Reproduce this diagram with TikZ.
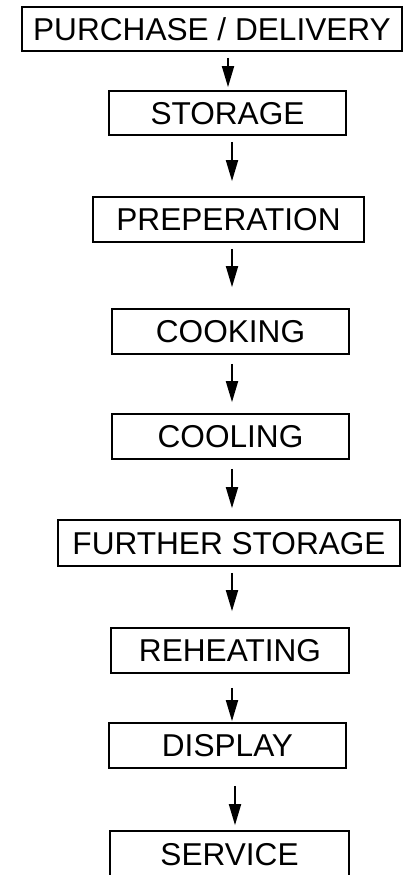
\documentclass[tikz,border=0pt]{standalone}
\usepackage{fontspec}
\setmainfont{Liberation Sans}
\usetikzlibrary{arrows.meta}
\newcommand\lbl[1]{#1}
\tikzset{
  box/.style={draw, line width=1.7pt, inner sep=0pt, text height=22.8pt, text depth=0pt,
    font=\fontsize{31.6}{34}\selectfont},
  openbox/.style={box, draw=none},
  arr/.style={line width=1.8pt, -{Triangle[length=21pt,width=12pt]}}
}
\begin{document}
\begin{tikzpicture}[x=1pt,y=-1pt]
\useasboundingbox (0,0) rectangle (408,875);
\node[box, minimum width=380pt, minimum height=44pt] (n1) at (212,29) {\lbl{PURCHASE / DELIVERY}};
\node[box, minimum width=237pt, minimum height=44pt] (n2) at (227.5,113) {\lbl{STORAGE}};
\node[box, minimum width=271pt, minimum height=45pt] (n3) at (228.5,219.5) {\lbl{PREPERATION}};
\node[box, minimum width=237pt, minimum height=45pt] (n4) at (230.5,331.5) {\lbl{COOKING}};
\node[box, minimum width=237pt, minimum height=45pt] (n5) at (230.5,436.5) {\lbl{COOLING}};
\node[box, minimum width=342pt, minimum height=46pt] (n6) at (229,543) {\lbl{FURTHER STORAGE}};
\node[box, minimum width=238pt, minimum height=45pt] (n7) at (230,650.5) {\lbl{REHEATING}};
\node[box, minimum width=237pt, minimum height=45pt] (n8) at (227.5,745.5) {\lbl{DISPLAY}};
\node[openbox, minimum width=237pt, minimum height=44pt] (n9) at (229.5,854) {\lbl{SERVICE}};
\draw[line width=1.7pt] (n9.south west) -- (n9.north west) -- (n9.north east) -- (n9.south east);
\draw[arr] ([xshift=16pt,yshift=-6pt]n1.south) -- ([xshift=0.5pt,yshift=3pt]n2.north);
\draw[arr] ([xshift=4.5pt,yshift=-6pt]n2.south) -- ([xshift=3.5pt,yshift=15pt]n3.north);
\draw[arr] ([xshift=3.5pt,yshift=-6pt]n3.south) -- ([xshift=1.5pt,yshift=21pt]n4.north);
\draw[arr] ([xshift=1.5pt,yshift=-9pt]n4.south) -- ([xshift=1.5pt,yshift=11pt]n5.north);
\draw[arr] ([xshift=1.5pt,yshift=-9pt]n5.south) -- ([xshift=3pt,yshift=11pt]n6.north);
\draw[arr] ([xshift=3pt,yshift=-6pt]n6.south) -- ([xshift=2pt,yshift=16pt]n7.north);
\draw[arr] ([xshift=2pt,yshift=-14pt]n7.south) -- ([xshift=4.5pt,yshift=1pt]n8.north);
\draw[arr] ([xshift=7.5pt,yshift=-17pt]n8.south) -- ([xshift=5.5pt,yshift=6pt]n9.north);
\end{tikzpicture}
\end{document}
